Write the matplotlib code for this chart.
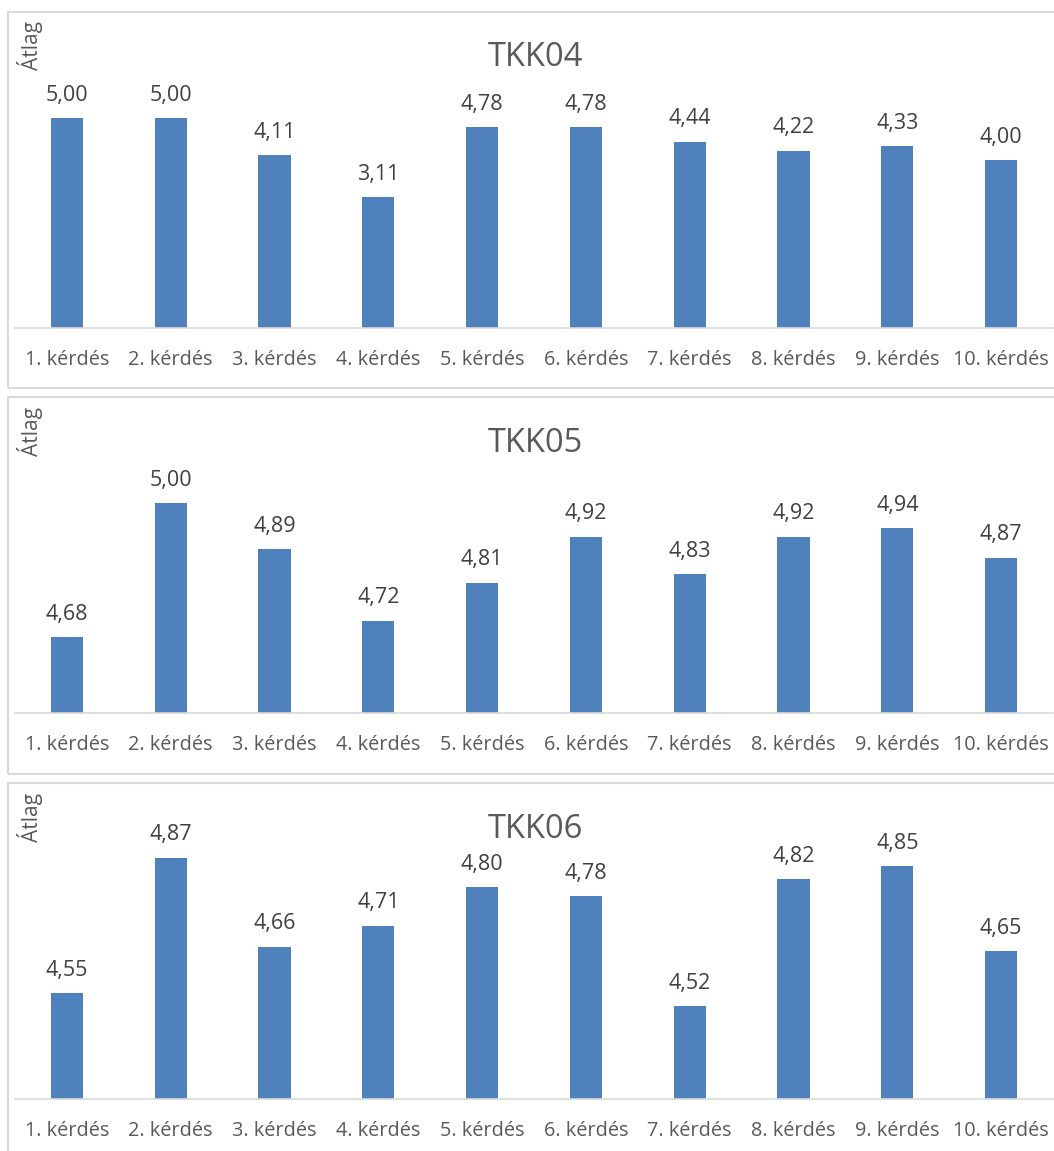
import matplotlib
matplotlib.use('Agg')
import matplotlib.pyplot as plt
from matplotlib.patches import Rectangle

plt.rcParams['font.family'] = ['Open Sans', 'DejaVu Sans']

# data
questions = ['1. kérdés', '2. kérdés', '3. kérdés', '4. kérdés', '5. kérdés',
             '6. kérdés', '7. kérdés', '8. kérdés', '9. kérdés', '10. kérdés']
titles = ['TKK04', 'TKK05', 'TKK06']
tkk04 = [5.00, 5.00, 4.11, 3.11, 4.78, 4.78, 4.44, 4.22, 4.33, 4.00]
tkk05 = [4.68, 5.00, 4.89, 4.72, 4.81, 4.92, 4.83, 4.92, 4.94, 4.87]
tkk06 = [4.55, 4.87, 4.66, 4.71, 4.80, 4.78, 4.52, 4.82, 4.85, 4.65]
ylims = [(0, 6), (4.5, 5.1), (4.3, 5.0)]

W, H = 1054, 1151
fig = plt.figure(figsize=(W / 100, H / 100), dpi=100)

BAR = '#4F81BD'
TXT = '#595959'
FRAME = '#D9D9D9'


def px_axes(x0, ytop, x1, ybot):
    return fig.add_axes([x0 / W, 1 - ybot / H, (x1 - x0) / W, (ybot - ytop) / H])


# panel layout in pixels: frame top, frame bottom, baseline, px per unit
panels = [
    (12, 388, 328, 42.0),
    (397, 774, 713, 420.0),
    (783, 1170, 1099, 423.0),
]
series = [tkk04, tkk05, tkk06]

for (ftop, fbot, base, ppu), title, vals, (lo, hi) in zip(panels, titles, series, ylims):
    # light frame around each chart
    fig.patches.append(Rectangle((8 / W, 1 - fbot / H), 1.2, (fbot - ftop) / H,
                                 transform=fig.transFigure, fill=False,
                                 edgecolor=FRAME, linewidth=1.5))
    top = base - (hi - lo) * ppu
    ax = px_axes(15, top, 1053, base)
    x = range(len(questions))
    ax.bar(x, vals, width=0.31, color=BAR)
    ax.set_ylim(lo, hi)
    ax.set_xlim(-0.5, len(questions) - 0.5)
    for i, v in enumerate(vals):
        ax.annotate(f'{v:.2f}'.replace('.', ','), (i, v), xytext=(0, 16.5),
                    textcoords='offset points', ha='center', va='center',
                    fontsize=15.5, color='#404040')
    ax.set_xticks(list(x))
    ax.set_xticklabels(questions, fontsize=14.3, color=TXT)
    ax.tick_params(axis='x', length=0, pad=15.5)
    ax.set_yticks([])
    for s in ['left', 'right', 'top']:
        ax.spines[s].set_visible(False)
    ax.spines['bottom'].set_color(FRAME)
    ax.spines['bottom'].set_linewidth(1.2)

    fig.text(535 / W, 1 - (ftop + 46) / H, title, ha='center', va='center',
             fontsize=23.5, color=TXT)
    fig.text(30 / W, 1 - (ftop + 34) / H, 'Átlag', ha='center', va='center',
             rotation=90, fontsize=15, color=TXT)

fig.savefig('out.png', dpi=100)
